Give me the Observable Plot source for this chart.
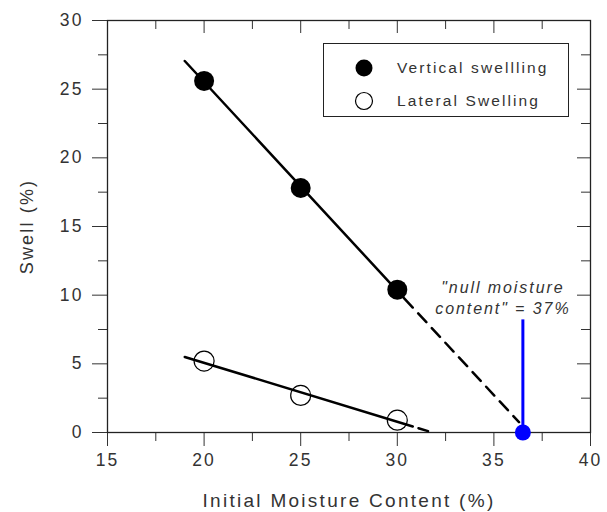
<!DOCTYPE html>
<html>
<head>
<meta charset="utf-8">
<script src="https://cdn.jsdelivr.net/npm/d3@7"></script>
<script src="https://cdn.jsdelivr.net/npm/@observablehq/plot@0.6"></script>
<style>
  body { margin: 0; background: #fff; }
  #wrap { position: relative; width: 607px; height: 512px; overflow: hidden; }
  #wrap svg text { letter-spacing: 0.12em; }
  #legend {
    position: absolute; left: 323px; top: 43px; width: 244px; height: 72px;
    border: 1.5px solid #222; background: #fff;
    font-family: "Liberation Sans", Arial, sans-serif; font-size: 15.5px; color: #333;
    letter-spacing: 2.1px;
  }
  .item { position: absolute; left: 0; height: 20px; width: 100%; }
  .item svg { position: absolute; left: 30px; top: 0; }
  .item span { position: absolute; left: 73px; top: 1px; line-height: 18px; white-space: nowrap; }
</style>
</head>
<body>
<div id="wrap"></div>
<script>
// ---- data ----
const moisture = [20, 25, 30];                 // Initial moisture content (%)
const verticalSwell = [25.6, 17.8, 10.4];      // Swell (%)
const lateralSwell = [5.2, 2.7, 0.9];          // Swell (%)
const seriesNames = ["Vertical swellling", "Lateral Swelling"];

// fitted trend lines (end points): solid part then dashed extrapolation
const verticalFitX = [19, 30.8, 36.3];
const verticalFitY = [27.05, 9.1, 0.75];
const lateralFitX = [19, 30.8, 31.7];
const lateralFitY = [5.5, 0.44, 0.05];

// null moisture content marker
const nullMoisture = [36.5];
const nullSwell = [0];
const nullLineTop = [8.2];
const nullNote = ['"null moisture\ncontent" = 37%'];

// axes
const xTicks = [15, 20, 25, 30, 35, 40];
const xMinor = [17.5, 22.5, 27.5, 32.5, 37.5];
const yTicks = [0, 5, 10, 15, 20, 25, 30];
const yMinor = [2.5, 7.5, 12.5, 17.5, 22.5, 27.5];
const xLabel = "Initial Moisture Content (%)";
const yLabel = "Swell (%)";

// ---- tables built from the arrays ----
const vPts = moisture.map((x, i) => ({x, y: verticalSwell[i]}));
const lPts = moisture.map((x, i) => ({x, y: lateralSwell[i]}));
const seg = (X, Y, a, b) => X.slice(a, b + 1).map((x, i) => ({x, y: Y[a + i]}));
const vSolid = seg(verticalFitX, verticalFitY, 0, 1);
const vDash = seg(verticalFitX, verticalFitY, 1, 2);
const lSolid = seg(lateralFitX, lateralFitY, 0, 1);
const lDash = seg(lateralFitX, lateralFitY, 1, 2);
const nullPts = nullMoisture.map((x, i) => ({x, y: nullSwell[i], top: nullLineTop[i], note: nullNote[i]}));

const ink = "#333";
const blank = () => "";

const chart = Plot.plot({
  width: 607,
  height: 512,
  marginLeft: 107,
  marginRight: 17,
  marginTop: 20,
  marginBottom: 80,
  style: {fontFamily: '"Liberation Sans", Arial, sans-serif', fontSize: "17.5px", color: ink, background: "#fff"},
  x: {domain: [15, 40]},
  y: {domain: [0, 30]},
  marks: [
    // axes: left & bottom ticks outward, right & top ticks inward
    Plot.axisY(yTicks, {anchor: "left", tickSize: 15, tickPadding: 9, label: null, stroke: ink, fill: ink}),
    Plot.axisY(yMinor, {anchor: "left", tickSize: 9, tickFormat: blank, label: null, stroke: ink}),
    Plot.axisY(yTicks, {anchor: "right", tickSize: 14, dx: -14, tickFormat: blank, label: null, stroke: ink}),
    Plot.axisY(yMinor, {anchor: "right", tickSize: 10, dx: -10, tickFormat: blank, label: null, stroke: ink}),
    Plot.axisX(xTicks, {anchor: "bottom", tickSize: 14, tickPadding: 7, label: null, stroke: ink, fill: ink}),
    Plot.axisX(xMinor, {anchor: "bottom", tickSize: 9, tickFormat: blank, label: null, stroke: ink}),
    Plot.axisX(xTicks, {anchor: "top", tickSize: 12, dy: 12, tickFormat: blank, label: null, stroke: ink}),
    Plot.axisX(xMinor, {anchor: "top", tickSize: 8, dy: 8, tickFormat: blank, label: null, stroke: ink}),
    Plot.frame({stroke: "#222", strokeWidth: 1.3}),
    // axis titles
    Plot.text([yLabel], {text: d => d, frameAnchor: "left", textAnchor: "middle", lineAnchor: "middle", dx: -80, rotate: -90, fontSize: 18, fill: ink}),
    Plot.text([xLabel], {text: d => d, frameAnchor: "bottom", textAnchor: "middle", lineAnchor: "bottom", dy: 74, fontSize: 19, fill: ink}),
    // fitted lines: solid over the data, dashed extrapolation
    Plot.line(vSolid, {x: "x", y: "y", stroke: "#000", strokeWidth: 2.5}),
    Plot.line(vDash, {x: "x", y: "y", stroke: "#000", strokeWidth: 2.5, strokeDasharray: "12,8", strokeDashoffset: 12}),
    Plot.line(lSolid, {x: "x", y: "y", stroke: "#000", strokeWidth: 2.5}),
    Plot.line(lDash, {x: "x", y: "y", stroke: "#000", strokeWidth: 2.5, strokeDasharray: "10,6", strokeDashoffset: 10}),
    // null moisture content annotation
    Plot.ruleX(nullPts, {x: "x", y1: "y", y2: "top", stroke: "#0000ff", strokeWidth: 3}),
    Plot.dot(nullPts, {x: "x", y: "y", r: 8, fill: "#0000ff", stroke: "none"}),
    Plot.text(nullPts, {x: "x", y: "top", text: "note", dx: -20, dy: -6, lineAnchor: "bottom", lineHeight: 1.3, fontSize: 16, fontStyle: "italic", fill: ink}),
    // measured points
    Plot.dot(vPts, {x: "x", y: "y", r: 10, fill: "#000", stroke: "none"}),
    Plot.dot(lPts, {x: "x", y: "y", r: 10, fill: "none", stroke: "#000", strokeWidth: 1.2})
  ]
});

const wrap = document.getElementById("wrap");
wrap.appendChild(chart);

// legend (HTML overlay inside the plot frame)
const legend = document.createElement("div");
legend.id = "legend";
const styles = [{fill: "#000", stroke: "none"}, {fill: "#fff", stroke: "#000"}];
seriesNames.forEach((name, i) => {
  const item = document.createElement("div");
  item.className = "item";
  item.style.top = (14 + i * 33) + "px";
  item.innerHTML = `<svg width="20" height="20"><circle cx="10" cy="10" r="8.5" fill="${styles[i].fill}" stroke="${styles[i].stroke}" stroke-width="1.2"/></svg><span>${name}</span>`;
  legend.appendChild(item);
});
wrap.appendChild(legend);
</script>
</body>
</html>
